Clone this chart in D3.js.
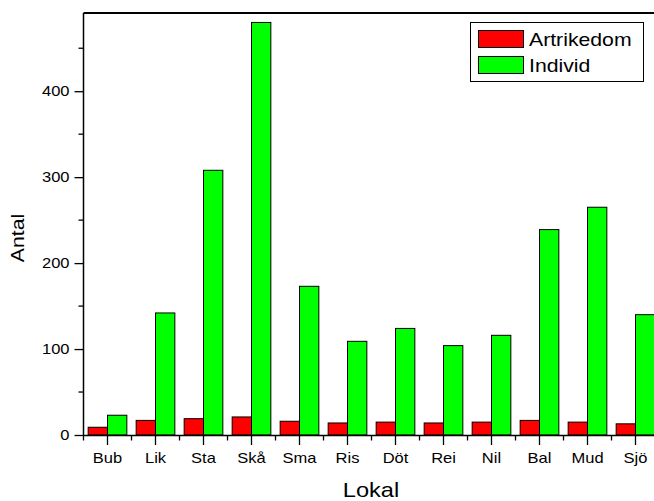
<!DOCTYPE html>
<html><head><meta charset="utf-8">
<script src="https://cdn.jsdelivr.net/npm/d3@7"></script>
<style>body{margin:0;background:#fff}svg{display:block}text{font-family:"Liberation Sans",Arial,sans-serif;fill:#000}</style>
</head><body><svg id="c" width="654" height="501"></svg>
<script>
const categories = ["Bub","Lik","Sta","Skå","Sma","Ris","Döt","Rei","Nil","Bal","Mud","Sjö"];
const artrikedom = [9,17,19,21,16,14,15,14,15,17,15,13];
const individ = [23,142,308,480,173,109,124,104,116,239,265,140];
const yTicks = [0,100,200,300,400];
const yMinor = [50,150,250,350,450];
const seriesNames = ["Artrikedom","Individ"];
const seriesColors = ["#ff0000","#00ff00"];
const SX = 1.18;

const svg = d3.select("#c");
const x = d3.scaleBand().domain(categories).range([83.5, 659.5]).paddingInner(0).paddingOuter(0);
const y = d3.scaleLinear().domain([0, 491]).range([435, 13]);
const bw = x.bandwidth() * 0.403;

// bars
const g = svg.append("g");
categories.forEach((c, i) => {
  const cx = x(c) + x.bandwidth() / 2;
  [artrikedom[i], individ[i]].forEach((v, k) => {
    g.append("rect")
      .attr("x", k === 0 ? cx - bw : cx)
      .attr("y", y(v))
      .attr("width", bw)
      .attr("height", y(0) - y(v))
      .attr("fill", seriesColors[k])
      .attr("stroke", "#000").attr("stroke-width", 1);
  });
});

// frame top
svg.append("line").attr("x1", 83.5).attr("x2", 654).attr("y1", 13).attr("y2", 13)
  .attr("stroke", "#000").attr("stroke-width", 2);

// y axis
const ya = svg.append("g").attr("transform", "translate(83.5,0)")
  .call(d3.axisLeft(y).tickValues(yTicks).tickSize(9).tickSizeOuter(0));
ya.select(".domain").attr("stroke-width", 1.5).attr("d", `M0,${y(0)}V13`);
ya.selectAll(".tick line").attr("stroke-width", 1.3);
ya.selectAll("text").attr("font-size", 14).attr("x", -14 / SX).attr("transform", `scale(${SX},1)`)
  .style("font-family", '"Liberation Sans",Arial,sans-serif');
ya.selectAll(".minor").data(yMinor).enter().append("line")
  .attr("x1", -5).attr("x2", 0).attr("y1", d => y(d)).attr("y2", d => y(d))
  .attr("stroke", "#000").attr("stroke-width", 1.3);

// x axis
const xa = svg.append("g").attr("transform", `translate(0,${y(0)})`)
  .call(d3.axisBottom(x).tickSize(10).tickSizeOuter(0));
xa.select(".domain").attr("stroke-width", 1.5);
xa.selectAll(".tick line").attr("stroke-width", 1.3);
xa.selectAll("text").attr("font-size", 14).attr("y", 28).attr("dy", 0).attr("transform", `scale(${SX},1)`)
  .style("font-family", '"Liberation Sans",Arial,sans-serif');
xa.selectAll(".minor").data(categories).enter().append("line")
  .attr("x1", d => x(d)).attr("x2", d => x(d)).attr("y1", 0).attr("y2", 5.5)
  .attr("stroke", "#000").attr("stroke-width", 1.3);

// axis titles
svg.append("text").attr("transform", `translate(371,497) scale(${SX},1)`)
  .attr("text-anchor", "middle").attr("font-size", 20).text("Lokal");
svg.append("text").attr("transform", `translate(24,238) rotate(-90) scale(${SX},1)`)
  .attr("text-anchor", "middle").attr("font-size", 18).text("Antal");

// legend
const lg = svg.append("g");
lg.append("rect").attr("x", 470.5).attr("y", 22.5).attr("width", 173).attr("height", 59)
  .attr("fill", "#fff").attr("stroke", "#000").attr("stroke-width", 1);
seriesNames.forEach((s, k) => {
  lg.append("rect").attr("x", 478.5).attr("y", 30.5 + k * 26).attr("width", 45).attr("height", 17)
    .attr("fill", seriesColors[k]).attr("stroke", "#000").attr("stroke-width", 1);
  lg.append("text").attr("transform", `translate(529,${45.5 + k * 26}) scale(${SX},1)`)
    .attr("font-size", 18).text(s);
});
</script></body></html>
